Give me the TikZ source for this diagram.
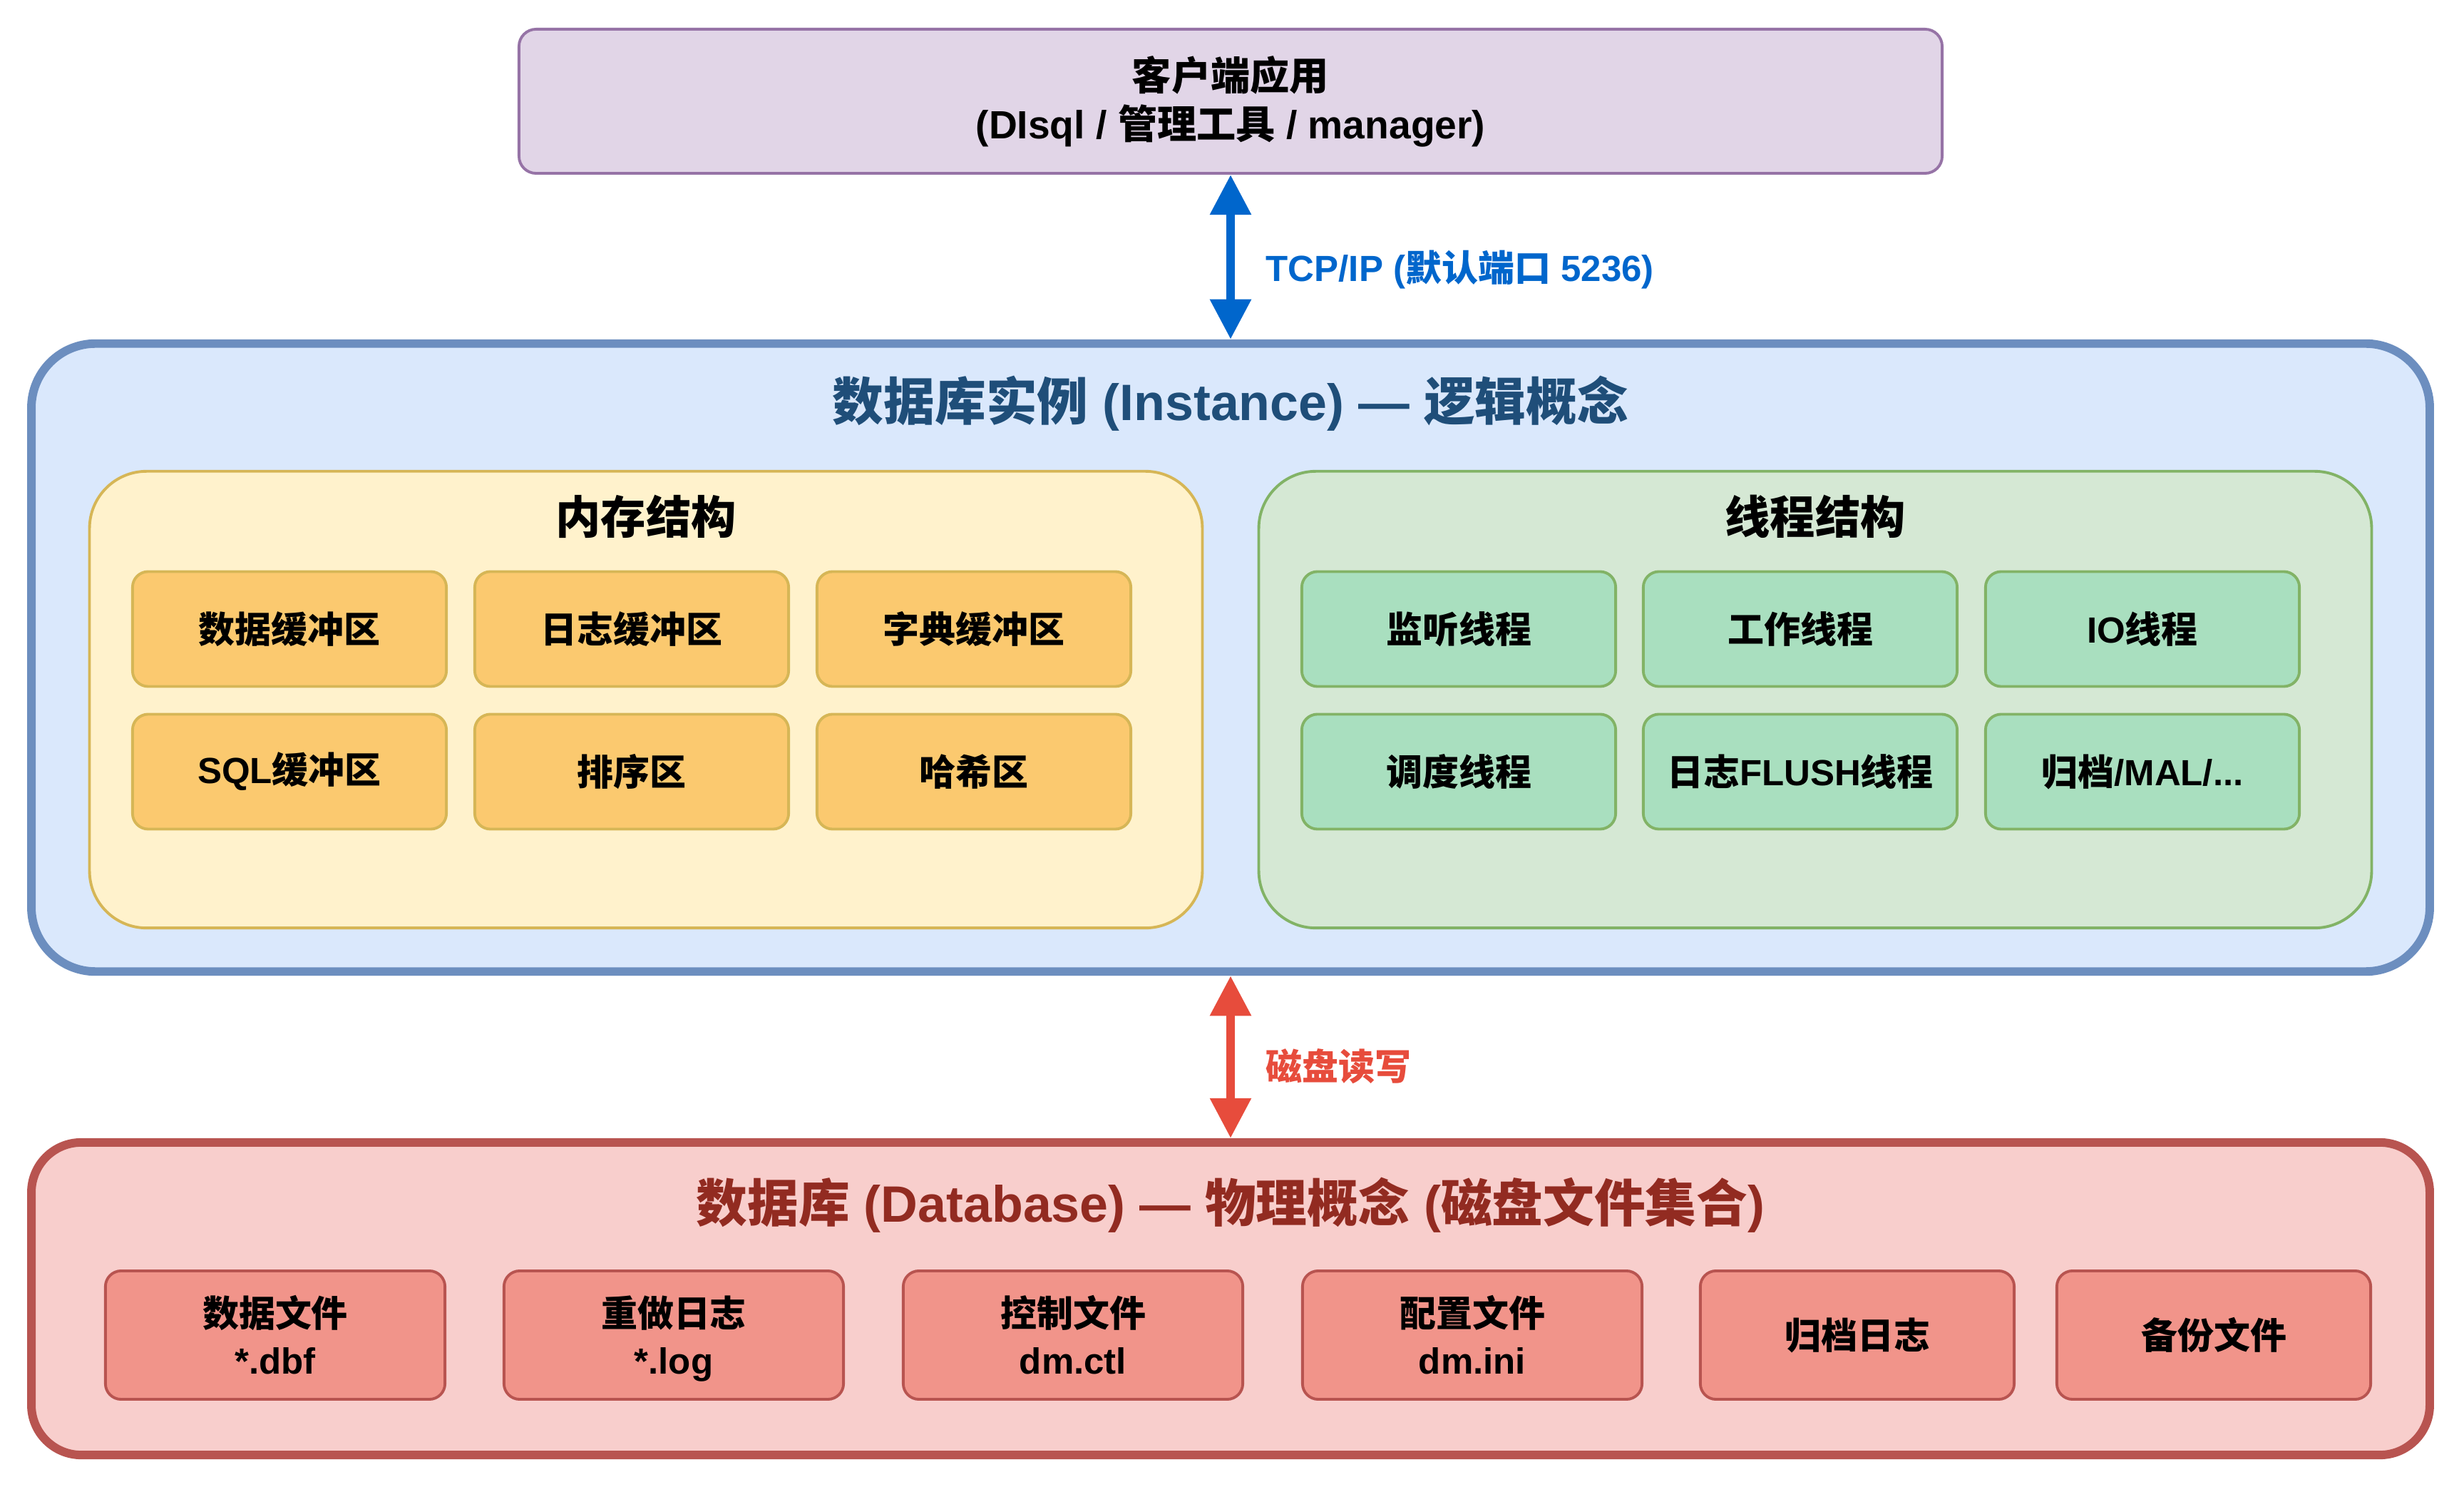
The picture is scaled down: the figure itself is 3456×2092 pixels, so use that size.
\documentclass[tikz,border=0pt]{standalone}
\usepackage{fontspec}
\usepackage{xcolor}
\usepackage{tikz}
\usetikzlibrary{arrows.meta}
\setmainfont{Noto Sans CJK SC}
\newfontfamily\latn{Liberation Sans}
\newcommand{\en}[1]{{\latn #1}}
\definecolor{clfill}{HTML}{E1D5E7}
\definecolor{clline}{HTML}{9673A6}
\definecolor{infill}{HTML}{DAE8FC}
\definecolor{inline}{HTML}{6C8EBF}
\definecolor{intitle}{HTML}{1F4E79}
\definecolor{memfill}{HTML}{FFF2CC}
\definecolor{memline}{HTML}{D6B656}
\definecolor{memitem}{HTML}{FBC96F}
\definecolor{thrfill}{HTML}{D5E8D4}
\definecolor{thrline}{HTML}{82B366}
\definecolor{thritem}{HTML}{A9DFBF}
\definecolor{dbfill}{HTML}{F8CECC}
\definecolor{dbline}{HTML}{B85450}
\definecolor{dbitem}{HTML}{F1948A}
\definecolor{dbtitle}{HTML}{922B21}
\definecolor{tcpblue}{HTML}{0066CC}
\definecolor{diskred}{HTML}{E74C3C}

\begin{document}
\begin{tikzpicture}[x=0.01cm, y=-0.01cm,
  itembox/.style={line width=1.1pt, minimum height=1.61cm, minimum width=4.40cm, inner sep=0pt, rounded corners=0.22cm, align=center, font=\fontsize{14.5}{18.8}\selectfont\bfseries},
  memitembox/.style={itembox, draw=memline, fill=memitem},
  thritembox/.style={itembox, draw=thrline, fill=thritem},
  fileitembox/.style={itembox, draw=dbline, fill=dbitem, minimum height=1.80cm},
  groupbox/.style={line width=1.1pt, minimum width=15.60cm, minimum height=6.40cm, inner sep=0pt, rounded corners=0.8cm},
  bigbox/.style={line width=3.4pt, minimum width=33.62cm, inner sep=0pt},
  bigtitle/.style={font=\fontsize{20.4}{24}\selectfont\bfseries},
  subtitle/.style={font=\fontsize{18}{22}\selectfont\bfseries},
  linklabel/.style={anchor=west, inner sep=0pt, font=\fontsize{14.5}{18}\selectfont\bfseries},
  linkarrow/.style={line width=3.4pt, {Triangle[length=0.56cm, width=0.55cm]}-{Triangle[length=0.56cm, width=0.55cm]}}]
  \path[fill=white, use as bounding box] (0,0) rectangle (3456,2092);

  % client
  \node[draw=clline, fill=clfill, line width=1.1pt, minimum width=19.95cm, minimum height=2.02cm, rounded corners=0.24cm, align=center, font=\fontsize{15.7}{19.3}\selectfont\bfseries] (client) at (1726,142) {客户端应用\\\en{(DIsql / }管理工具\en{ / manager)}};

  % instance
  \node[bigbox, draw=inline, fill=infill, minimum height=8.80cm, rounded corners=0.9cm] (inst) at (1726,922) {};
  \node[bigtitle, text=intitle] (insttitle) at (1726,566) {数据库实例\en{ (Instance) — }逻辑概念};

  \node[groupbox, draw=memline, fill=memfill] (mem) at (906,981) {};
  \node[subtitle] (memtitle) at (906,724) {内存结构};
  \node[memitembox] (m1) at (406,882) {数据缓冲区};
  \node[memitembox] (m2) at (886,882) {日志缓冲区};
  \node[memitembox] (m3) at (1366,882) {字典缓冲区};
  \node[memitembox] (m4) at (406,1082) {\en{SQL}缓冲区};
  \node[memitembox] (m5) at (886,1082) {排序区};
  \node[memitembox] (m6) at (1366,1082) {哈希区};

  \node[groupbox, draw=thrline, fill=thrfill] (thr) at (2546,981) {};
  \node[subtitle] (thrtitle) at (2546,724) {线程结构};
  \node[thritembox] (t1) at (2046,882) {监听线程};
  \node[thritembox] (t2) at (2525,882) {工作线程};
  \node[thritembox] (t3) at (3005,882) {\en{IO}线程};
  \node[thritembox] (t4) at (2046,1082) {调度线程};
  \node[thritembox] (t5) at (2525,1082) {日志\en{FLUSH}线程};
  \node[thritembox] (t6) at (3005,1082) {归档\en{/MAL/...}};

  % database
  \node[bigbox, draw=dbline, fill=dbfill, minimum height=4.38cm, rounded corners=0.7cm] (db) at (1726,1821) {};
  \node[bigtitle, text=dbtitle] (dbtitle) at (1726,1690) {数据库\en{ (Database) — }物理概念\en{ (}磁盘文件集合\en{)}};
  \node[fileitembox, minimum width=4.76cm] (f1) at (386,1872) {数据文件\\\en{*.dbf}};
  \node[fileitembox, minimum width=4.76cm] (f2) at (945,1872) {重做日志\\\smash{\en{*.log}}};
  \node[fileitembox, minimum width=4.76cm] (f3) at (1505,1872) {控制文件\\\en{dm.ctl}};
  \node[fileitembox, minimum width=4.76cm] (f4) at (2065,1872) {配置文件\\\en{dm.ini}};
  \node[fileitembox] (f5) at (2605,1872) {归档日志};
  \node[fileitembox] (f6) at (3105,1872) {备份文件};

  % links
  \draw[linkarrow, draw=tcpblue, fill=tcpblue] (client.south) -- (inst.north);
  \node[linklabel, text=tcpblue] (tcplabel) at (1775,378) {\en{TCP/IP (}默认端口\en{ 5236)}};
  \draw[linkarrow, draw=diskred, fill=diskred] (inst.south) -- (db.north);
  \node[linklabel, text=diskred] (disklabel) at (1775,1495) {磁盘读写};
\end{tikzpicture}
\end{document}
